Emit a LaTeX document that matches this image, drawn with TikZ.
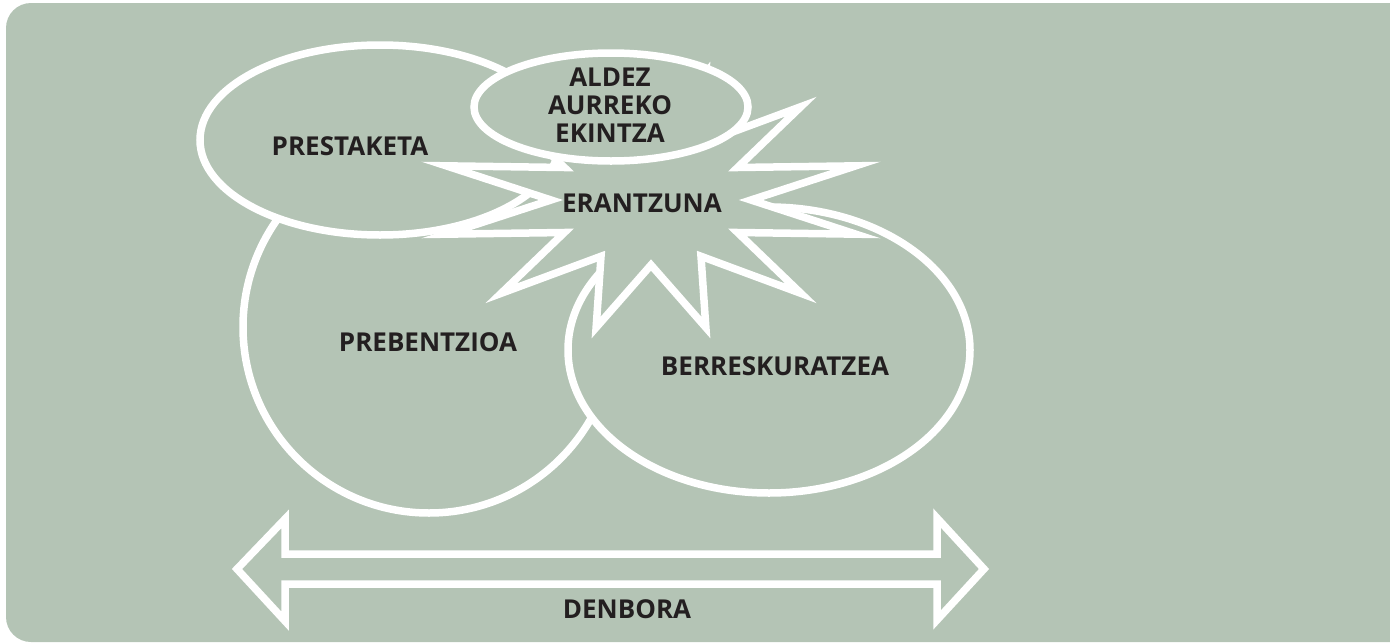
\documentclass[tikz,border=0pt]{standalone}
\usepackage{fontspec}
\setmainfont{Open Sans}
\definecolor{bgc}{RGB}{180,196,181}
\definecolor{txt}{RGB}{35,31,32}
\tikzset{
  shp/.style={draw=white, fill=bgc, line width=7.5pt, line join=miter},
  lbl/.style={text=txt, font=\fontsize{26}{28}\selectfont\bfseries, align=center, inner sep=0pt}
}
\begin{document}
\begin{tikzpicture}[x=1pt,y=-1pt]
\useasboundingbox (0,0) rectangle (1390,643);
\clip (0,0) rectangle (1390,643);
\fill[bgc, rounded corners=25pt] (6,3) rectangle (1440,642);
% PREBENTZIOA
\path[shp] (429,327) ellipse [x radius=186, y radius=186];
% BERRESKURATZEA
\path[shp] (769,350) ellipse [x radius=201, y radius=143];
% PRESTAKETA
\path[shp] (380,140) ellipse [x radius=180, y radius=95];
% ERANTZUNA star
\path[shp, shift={(651,200)}] (15:212 and 132)
  \foreach \a [evaluate=\a as \b using \a+15] in {30,60,...,330} { -- (\a:100 and 65) -- (\b:212 and 132) }
  -- (0:100 and 65) -- cycle;
% ALDEZ AURREKO EKINTZA
\path[shp] (611,107) ellipse [x radius=137, y radius=54];
% DENBORA arrow
\path[shp] (237,569) -- (285,519) -- (285,554) -- (937,554) -- (937,518) -- (984,569)
  -- (937,620) -- (937,584) -- (285,584) -- (285,621) -- cycle;
% labels
\node[lbl] (prest) at (350,146) {PRESTAKETA};
\node[lbl] (aldez) at (610,105) {ALDEZ\\AURREKO\\EKINTZA};
\node[lbl] (eran) at (642,203) {ERANTZUNA};
\node[lbl] (preb) at (428,342) {PREBENTZIOA};
\node[lbl] (berr) at (775,366) {BERRESKURATZEA};
\node[lbl] (denb) at (627,609) {DENBORA};
\end{tikzpicture}
\end{document}
